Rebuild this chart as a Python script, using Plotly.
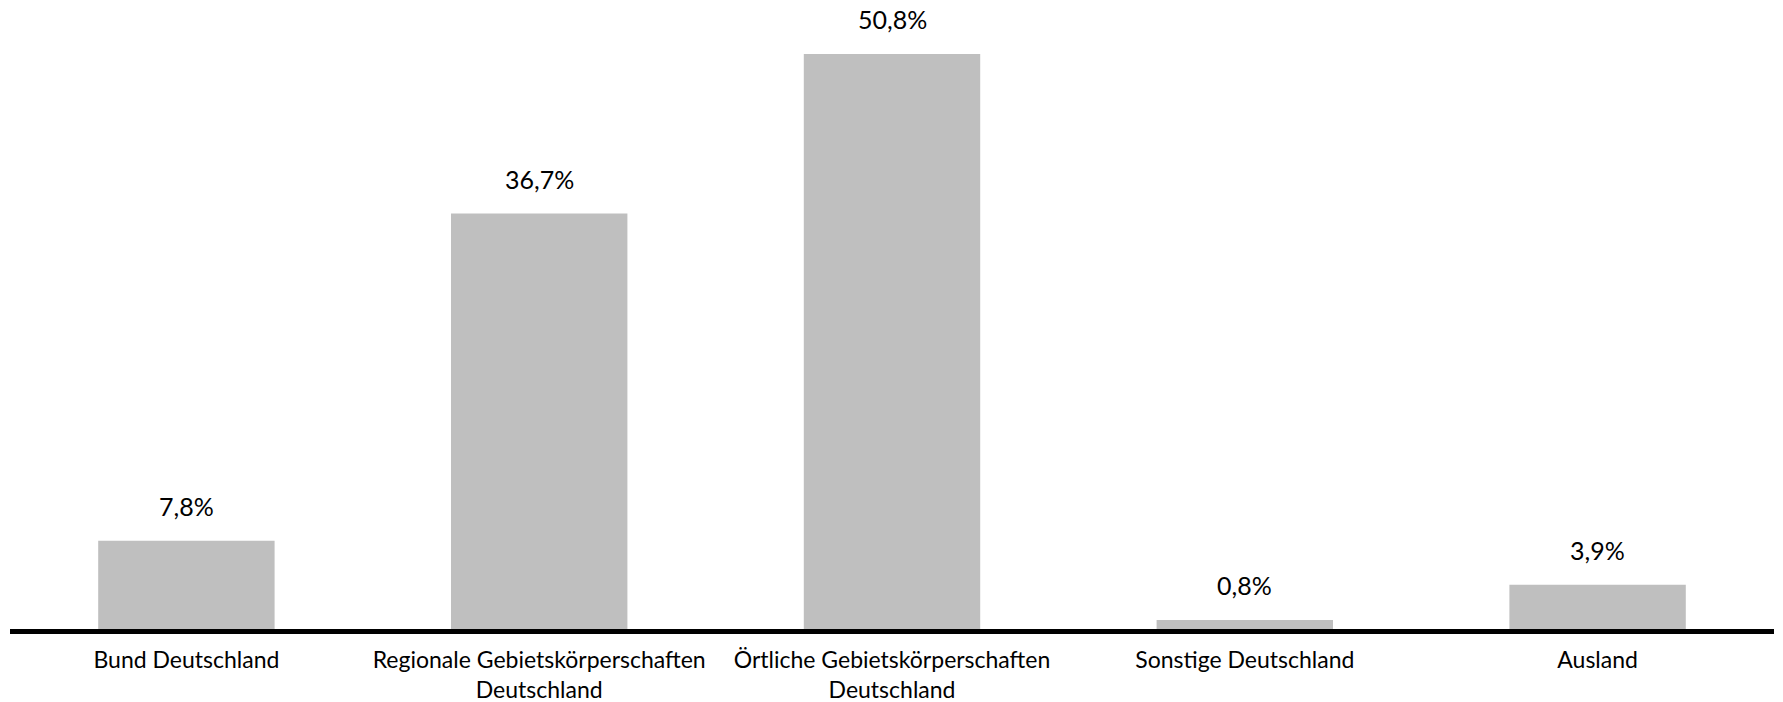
import plotly.graph_objects as go

categories = [
    "Bund Deutschland",
    "Regionale Gebietskörperschaften<br>Deutschland",
    "Örtliche Gebietskörperschaften<br>Deutschland",
    "Sonstige Deutschland",
    "Ausland",
]
values = [7.8, 36.7, 50.8, 0.8, 3.9]
value_labels = ["7,8%", "36,7%", "50,8%", "0,8%", "3,9%"]

FONT = "Lato"
fig = go.Figure()
fig.add_trace(go.Bar(
    x=categories, y=values,
    marker=dict(color="#BFBFBF", line=dict(width=0)),
    hoverinfo="skip",
))
for c, v, t in zip(categories, values, value_labels):
    fig.add_annotation(x=c, y=v, text=t, showarrow=False, yanchor="bottom",
                       yshift=18, font=dict(family=FONT, size=25, color="#000000"))

fig.update_layout(
    width=1783, height=702,
    margin=dict(l=10, r=9, t=0, b=73, autoexpand=False),
    paper_bgcolor="white", plot_bgcolor="white",
    bargap=0.5, showlegend=False,
    font=dict(family=FONT, size=23, color="#000000"),
)
fig.update_xaxes(showline=True, linecolor="black", linewidth=4.5, ticks="",
                 showgrid=False, ticklabelstandoff=7, automargin=False,
                 tickfont=dict(family=FONT, size=23, color="#000000"))
fig.update_yaxes(visible=False, range=[0, 55.57], showgrid=False, zeroline=False,
                 automargin=False)
fig.write_html("out.html",
               config={"displayModeBar": False},
               post_script="document.body.style.margin='0';document.body.style.overflow='hidden';")
